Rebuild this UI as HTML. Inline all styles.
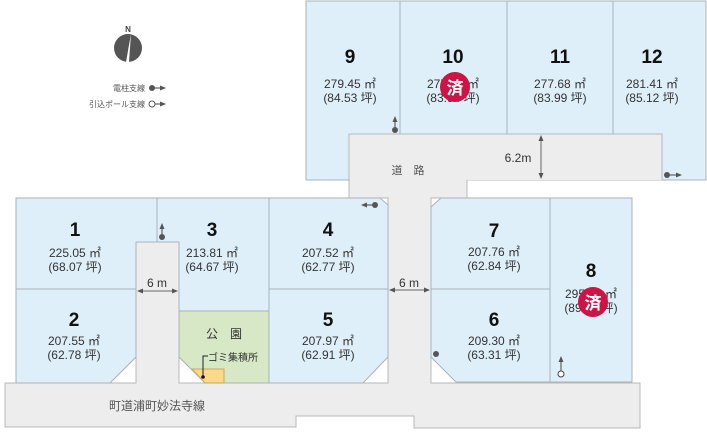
<!DOCTYPE html>
<html><head><meta charset="utf-8"><style>
html,body{margin:0;padding:0;background:#fff;width:707px;height:432px;overflow:hidden}
svg{display:block;font-family:"Liberation Sans","Noto Sans CJK JP",sans-serif}
.lot{fill:#dfeff9;stroke:#a8b3ba;stroke-width:1}
.road{fill:#ededed;stroke:#b8b8b8;stroke-width:1}
.n{font-size:19px;font-weight:bold;fill:#111;text-anchor:middle}
.a{font-size:12px;fill:#333;text-anchor:middle}
.s{font-size:11px;fill:#555;text-anchor:middle}
</style></head><body>
<svg width="707" height="432" viewBox="0 0 707 432">
<defs><marker id="ar" markerWidth="6" markerHeight="6" refX="5" refY="3" orient="auto-start-reverse"><path d="M0,0.5 L6,3 L0,5.5z" fill="#555"/></marker></defs>
<polygon class="road" points="349,134 662,134 662,180 467,180 467,198 431,198 431,383 640,383 640,428 414,428 414,416 296,416 296,427 5,427 5,383 136,383 136,242 179,242 179,383 388,383 388,198 349,198"/>
<polygon class="lot" points="306,1 706,1 706,180 662,180 662,134 349,134 349,180 306,180"/>
<line x1="400" y1="1" x2="400" y2="134" stroke="#a8b3ba"/>
<line x1="507" y1="1" x2="507" y2="134" stroke="#a8b3ba"/>
<line x1="613" y1="1" x2="613" y2="134" stroke="#a8b3ba"/>
<rect x="349" y="134" width="313" height="46" fill="#ededed"/>
<line x1="349" y1="134" x2="662" y2="134" stroke="#b8b8b8"/>
<line x1="349" y1="134" x2="349" y2="180" stroke="#b8b8b8"/>
<line x1="662" y1="134" x2="662" y2="180" stroke="#b8b8b8"/>
<polygon class="lot" points="16,198 157,198 157,242 136,242 136,289 16,289"/>
<polygon class="lot" points="16,289 136,289 136,357 110,383 16,383"/>
<polygon class="lot" points="157,198 269,198 269,311 179,311 179,242 157,242"/>
<polygon fill="#d6e8c5" stroke="#a8b3ba" points="179,311 269,311 269,383 205,383 179,357"/>
<polygon fill="#fcd98a" stroke="#c9a85c" points="192,369 224,369 224,383 205,383"/>
<polygon class="lot" points="269,198 380,198 388,205 388,289 269,289"/>
<polygon class="lot" points="269,289 388,289 388,357 363,383 269,383"/>
<polygon class="lot" points="441,198 550,198 550,289 431,289 431,207"/>
<polygon class="lot" points="431,289 550,289 550,382 456,382 431,357"/>
<polygon class="lot" points="550,198 632,198 632,382 550,382"/>
<text class="n" x="350" y="63">9</text><text class="a" x="350" y="88">279.45 ㎡</text><text class="a" x="350" y="102">(84.53 坪)</text>
<text class="n" x="453" y="63">10</text><text class="a" x="453" y="88">277.49 ㎡</text><text class="a" x="453" y="102">(83.94 坪)</text>
<text class="n" x="560" y="63">11</text><text class="a" x="560" y="88">277.68 ㎡</text><text class="a" x="560" y="102">(83.99 坪)</text>
<text class="n" x="652" y="63">12</text><text class="a" x="652" y="88">281.41 ㎡</text><text class="a" x="652" y="102">(85.12 坪)</text>
<text class="n" x="75" y="236">1</text><text class="a" x="75" y="257">225.05 ㎡</text><text class="a" x="75" y="271">(68.07 坪)</text>
<text class="n" x="74" y="326">2</text><text class="a" x="74" y="345">207.55 ㎡</text><text class="a" x="74" y="359">(62.78 坪)</text>
<text class="n" x="212" y="236">3</text><text class="a" x="212" y="257">213.81 ㎡</text><text class="a" x="212" y="271">(64.67 坪)</text>
<text class="n" x="328" y="236">4</text><text class="a" x="328" y="257">207.52 ㎡</text><text class="a" x="328" y="271">(62.77 坪)</text>
<text class="n" x="328" y="326">5</text><text class="a" x="328" y="345">207.97 ㎡</text><text class="a" x="328" y="359">(62.91 坪)</text>
<text class="n" x="494" y="237">7</text><text class="a" x="494" y="256">207.76 ㎡</text><text class="a" x="494" y="270">(62.84 坪)</text>
<text class="n" x="494" y="326">6</text><text class="a" x="494" y="345">209.30 ㎡</text><text class="a" x="494" y="359">(63.31 坪)</text>
<text class="n" x="591" y="277">8</text><text class="a" x="591" y="298">295.00 ㎡</text><text class="a" x="591" y="312">(89.24 坪)</text>
<circle cx="455" cy="87" r="15" fill="#cc1446"/><text x="455" y="94" font-size="17" font-weight="bold" fill="#fff" text-anchor="middle">済</text>
<circle cx="593" cy="302" r="15" fill="#cc1446"/><text x="593" y="309" font-size="17" font-weight="bold" fill="#fff" text-anchor="middle">済</text>
<text class="s" x="408" y="174">道　路</text>
<text x="518" y="162" font-size="12" fill="#333" text-anchor="middle">6.2m</text>
<line x1="541" y1="136" x2="541" y2="178" stroke="#666" marker-end="url(#ar)" marker-start="url(#ar)"/>
<text x="157" y="287" font-size="12" fill="#333" text-anchor="middle">6 m</text>
<line x1="138" y1="291" x2="177" y2="291" stroke="#666" marker-end="url(#ar)" marker-start="url(#ar)"/>
<text x="409" y="287" font-size="12" fill="#333" text-anchor="middle">6 m</text>
<line x1="390" y1="290" x2="429" y2="290" stroke="#666" marker-end="url(#ar)" marker-start="url(#ar)"/>
<text x="157" y="410" font-size="12" fill="#555" text-anchor="middle">町道浦町妙法寺線</text>
<text x="224" y="338" font-size="12" fill="#333" text-anchor="middle">公　園</text>
<text x="208" y="361" font-size="10" fill="#333">ゴミ集積所</text>
<polyline points="203,377 203,356 208,356" fill="none" stroke="#222"/><circle cx="203" cy="377" r="1.8" fill="#111"/>
<line x1="395" y1="130" x2="395" y2="117" stroke="#444" marker-end="url(#ar)"/><circle cx="395" cy="130" r="3" fill="#555"/>
<line x1="162" y1="237" x2="162" y2="224" stroke="#444" marker-end="url(#ar)"/><circle cx="162" cy="237" r="3" fill="#555"/>
<line x1="375" y1="205" x2="362" y2="205" stroke="#444" marker-end="url(#ar)"/><circle cx="375" cy="205" r="3" fill="#555"/>
<line x1="667" y1="175" x2="681" y2="175" stroke="#444" marker-end="url(#ar)"/><circle cx="667" cy="175" r="3" fill="#555"/>
<circle cx="436" cy="354" r="3" fill="#555"/>
<line x1="561" y1="371" x2="561" y2="357" stroke="#444" marker-end="url(#ar)"/><circle cx="561" cy="374" r="3" fill="#fff" stroke="#444"/>
<text x="128" y="32" font-size="8" font-weight="bold" fill="#444" text-anchor="middle">N</text>
<circle cx="128" cy="48" r="14" fill="#555"/>
<polygon points="131,34 126,62 129,62" fill="#fff"/>
<text x="145" y="91" font-size="8" fill="#555" text-anchor="end">電柱支線</text>
<circle cx="152" cy="88" r="3" fill="#555"/><line x1="154" y1="88" x2="165" y2="88" stroke="#444" marker-end="url(#ar)"/>
<text x="145" y="107" font-size="8" fill="#555" text-anchor="end">引込ポール支線</text>
<circle cx="152" cy="104" r="3" fill="#fff" stroke="#555"/><line x1="155" y1="104" x2="165" y2="104" stroke="#444" marker-end="url(#ar)"/>
</svg>
</body></html>
